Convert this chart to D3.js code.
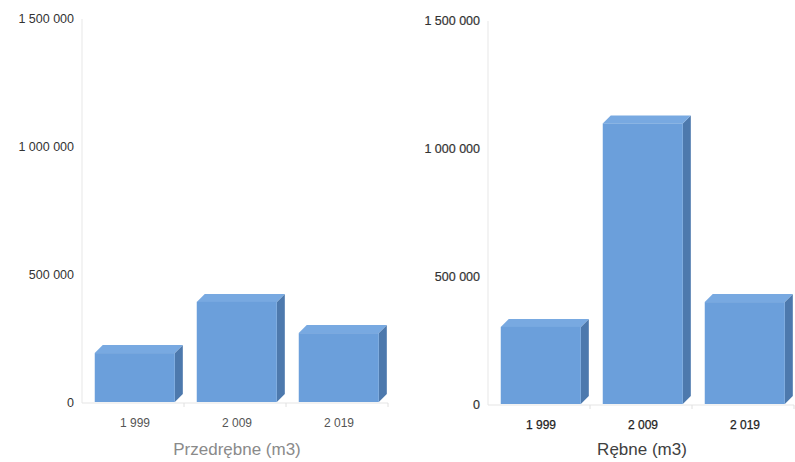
<!DOCTYPE html>
<html><head><meta charset="utf-8">
<script src="https://cdn.jsdelivr.net/npm/d3@7"></script>
<style>body{margin:0;background:#fff}svg{display:block}</style>
</head><body>
<svg id="c" width="795" height="462"></svg>
<script>
const categories = ["1 999", "2 009", "2 019"];
const przedrebneValues = [195000, 395000, 273000];
const rebneValues = [305000, 1100000, 402000];
const yTicks = [0, 500000, 1000000, 1500000];
const titles = ["Przedrębne (m3)", "Rębne (m3)"];

const svg = d3.select("#c");
const fmt = v => d3.format(",")(v).replace(/,/g, " ");

function panel(values, title, o) {
  const g = svg.append("g");
  const y = d3.scaleLinear().domain([0, 1500000]).range([o.y0, o.y1]);
  const x = d3.scaleBand().domain(categories).range([o.x0, o.x1]).padding(0);
  const bw = x.bandwidth();
  const barW = bw * 0.785, off = bw * 0.125, dx = 8, dy = 8;

  g.append("line").attr("x1", o.x0).attr("x2", o.x0).attr("y1", y(1500000)).attr("y2", y(0))
    .attr("stroke", "#ebebeb").attr("stroke-width", 1.2);
  g.append("line").attr("x1", o.x0).attr("x2", o.x1).attr("y1", y(0)).attr("y2", y(0))
    .attr("stroke", "#e6e6e6").attr("stroke-width", 1.2);
  categories.forEach(c => {
    g.append("line").attr("x1", x(c) + bw).attr("x2", x(c) + bw).attr("y1", y(0)).attr("y2", y(0) + 4)
      .attr("stroke", "#e0e0e0");
  });

  g.selectAll(".yl").data(yTicks).enter().append("text")
    .attr("x", o.x0 - 8).attr("y", d => y(d)).attr("dy", "0.35em")
    .attr("text-anchor", "end").attr("font-family", "Liberation Sans, Arial, sans-serif")
    .attr("font-size", 12.5).attr("fill", "#333")
    .attr("stroke", o.bold ? "#333" : "none").attr("stroke-width", 0.2)
    .text(fmt);

  const bars = g.selectAll(".bar").data(values).enter().append("g");
  bars.each(function(v, i) {
    const b = d3.select(this);
    const xl = x(categories[i]) + off, xr = xl + barW;
    const yt = y(v), yb = y(0) - 1;
    b.append("path").attr("d", `M${xr},${yt}L${xr + dx},${yt - dy}L${xr + dx},${yb - dy}L${xr},${yb}Z`)
      .attr("fill", "#4d79ad");
    b.append("path").attr("d", `M${xl},${yt}L${xl + dx},${yt - dy}L${xr + dx},${yt - dy}L${xr},${yt}Z`)
      .attr("fill", "#78a9e1");
    b.append("rect").attr("x", xl).attr("y", yt).attr("width", barW).attr("height", yb - yt)
      .attr("fill", "#6b9fdb");
  });

  g.selectAll(".xl").data(categories).enter().append("text")
    .attr("x", d => x(d) + bw / 2 + 2).attr("y", o.y0 + 24)
    .attr("text-anchor", "middle").attr("font-family", "Liberation Sans, Arial, sans-serif")
    .attr("font-size", 12).attr("fill", o.bold ? "#222" : "#555")
    .attr("stroke", o.bold ? "#222" : "none").attr("stroke-width", 0.25)
    .text(d => d);

  g.append("text").attr("x", o.tx).attr("y", 455)
    .attr("text-anchor", "middle").attr("font-family", "Liberation Sans, Arial, sans-serif")
    .attr("font-size", 17).attr("fill", o.titleColor).text(title);
}

panel(przedrebneValues, titles[0], {x0: 82, x1: 388, y0: 403, y1: 19, tx: 237, titleColor: "#8a8a8a", bold: false});
panel(rebneValues, titles[1], {x0: 488, x1: 794, y0: 405, y1: 21, tx: 642, titleColor: "#404040", bold: true});
</script>
</body></html>
